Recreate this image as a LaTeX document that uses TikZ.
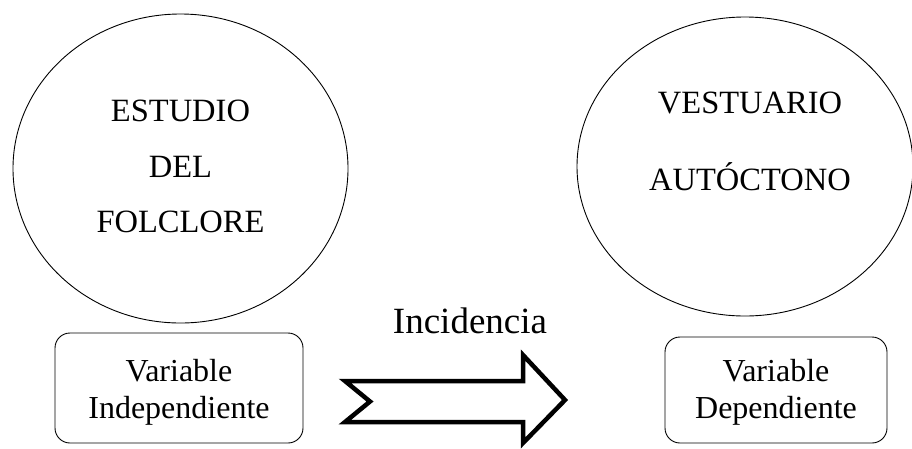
\documentclass[tikz,border=0pt]{standalone}
\usepackage{fontspec}
\setmainfont{Liberation Serif}
\begin{document}
\begin{tikzpicture}[x=1pt,y=-1pt,
  oval/.style={draw=black,line width=0.9pt},
  varbox/.style={draw=black,line width=0.9pt,rounded corners=15pt},
  big/.style={font=\fontsize{32.5}{36}\selectfont,align=center},
  boxtext/.style={font=\fontsize{32}{37}\selectfont,align=center,inner sep=0pt}]
\useasboundingbox (0,0) rectangle (912,448);
\clip (0,0) rectangle (912,448);
% left ellipse
\draw[oval] (180.5,168.5) ellipse [x radius=167.5, y radius=154.5];
\node[big] (e1) at (180.5,111) {ESTUDIO};
\node[big] (e2) at (180.5,167) {DEL};
\node[big] (e3) at (180.5,222) {FOLCLORE};
% right ellipse
\draw[oval] (745,166.5) ellipse [x radius=168, y radius=149.5];
\node[big] (v1) at (750,103) {VESTUARIO};
\node[big] (v2) at (750,177) {AUTÓCTONO};
% boxes
\draw[varbox] (55,333) rectangle (303,443);
\node[boxtext] (b1) at (179,392) {Variable\\Independiente};
\draw[varbox] (665,337) rectangle (887,443);
\node[boxtext] (b2) at (776,392) {Variable\\Dependiente};
% label
\node[font=\fontsize{37}{40}\selectfont] (inc) at (470,321) {Incidencia};
% arrow
\draw[line width=4.5pt,line join=miter,miter limit=10]
  (345,381) -- (523,381) -- (523,355) -- (565,400) -- (523,443) -- (523,422) -- (345,422) -- (370,401.5) -- cycle;
\end{tikzpicture}
\end{document}
